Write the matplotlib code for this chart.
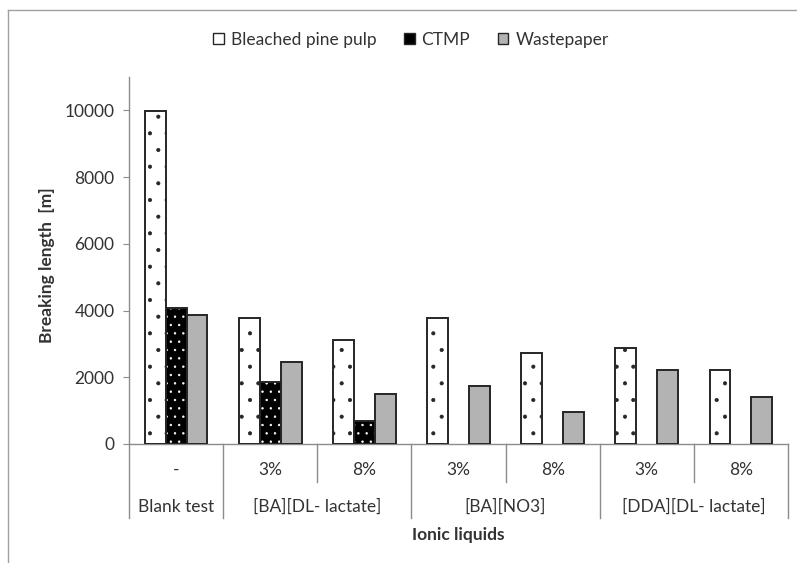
import numpy as np
import matplotlib
matplotlib.use("Agg")
import matplotlib.pyplot as plt
from matplotlib.patches import Patch
from matplotlib.lines import Line2D
import matplotlib.transforms as mtransforms

plt.rcParams['font.family'] = ['Lato', 'DejaVu Sans']
plt.rcParams['hatch.linewidth'] = 0.5

sub_labels = ["-", "3%", "8%", "3%", "8%", "3%", "8%"]
group_labels = ["Blank test", "[BA][DL- lactate]", "[BA][NO3]", "[DDA][DL- lactate]"]
group_sizes = [1, 2, 2, 2]
series_names = ["Bleached pine pulp", "CTMP", "Wastepaper"]
bleached = [9980, 3790, 3120, 3770, 2740, 2890, 2220]
ctmp = [4090, 1850, 700, None, None, None, None]
waste = [3870, 2460, 1490, 1740, 970, 2220, 1420]

text_c = '#333333'
axis_c = '#8c8c8c'
edge_c = '#262626'
gray_c = '#b3b3b3'
fs = 12.5

fig = plt.figure(figsize=(7.97, 5.63), dpi=100)
ax = fig.add_axes([129/797, 1-444/563, (788-129)/797, (444-77)/563])

n = len(sub_labels)
x = np.arange(n)
w = 0.222

# Bleached: white with black dots
ax.bar(x - w, bleached, w, facecolor='white', edgecolor=edge_c, hatch='.', linewidth=1.4, zorder=3)
# CTMP: black with white dots
cx = [xi for xi, v in zip(x, ctmp) if v is not None]
cv = [v for v in ctmp if v is not None]
ax.bar(cx, cv, w, facecolor='black', edgecolor='white', hatch='..', linewidth=0, zorder=3)
ax.bar(cx, cv, w, fill=False, edgecolor=edge_c, linewidth=1.4, zorder=4)
# Wastepaper: gray
ax.bar(x + w, waste, w, facecolor=gray_c, edgecolor=edge_c, linewidth=1.4, zorder=3)

ax.set_xlim(-0.5, n - 0.5)
ax.set_ylim(0, 11000)
ax.set_yticks([0, 2000, 4000, 6000, 8000, 10000])
ax.set_xticks([])
for s in ['top', 'right']:
    ax.spines[s].set_visible(False)
for s in ['left', 'bottom']:
    ax.spines[s].set_color(axis_c)
    ax.spines[s].set_linewidth(1.0)
ax.tick_params(axis='y', direction='out', length=4.5, color=axis_c, labelsize=fs,
               labelcolor=text_c, pad=6)

trans = mtransforms.blended_transform_factory(ax.transData, ax.transAxes)
# Category separators
bounds = np.cumsum([0] + group_sizes)
group_edges = set(bounds.tolist())
for k in range(n + 1):
    yb = -0.2016 if k in group_edges else -0.1035
    ax.plot([k - 0.5, k - 0.5], [0, yb], transform=trans, color=axis_c, lw=1.0, clip_on=False)

for i, lab in enumerate(sub_labels):
    ax.text(i, -0.0708, lab, transform=trans, ha='center', va='center', fontsize=fs, color=text_c)
for g, lab in enumerate(group_labels):
    c = (bounds[g] + bounds[g + 1] - 1) / 2
    ax.text(c, -0.1717, lab, transform=trans, ha='center', va='center', fontsize=fs, color=text_c)

ax.text(0.5, -0.248, "Ionic liquids", transform=ax.transAxes, ha='center', va='center',
        fontsize=fs, fontweight='bold', color=text_c)
fig.text(47/797, 1-265/563, "Breaking length  [m]", rotation=90, ha='center', va='center',
         fontsize=fs, fontweight='bold', color=text_c)

handles = [Patch(facecolor='white', edgecolor=edge_c, linewidth=1.0),
           Patch(facecolor='black', edgecolor=edge_c, linewidth=1.0),
           Patch(facecolor=gray_c, edgecolor=edge_c, linewidth=1.0)]
leg = fig.legend(handles, series_names, loc='center', bbox_to_anchor=(411/797, 1-40/563), ncol=3,
                 frameon=False, fontsize=fs, handlelength=0.6, handleheight=0.6,
                 handletextpad=0.4, columnspacing=1.6, borderaxespad=0)
for t in leg.get_texts():
    t.set_color(text_c)

# outer chart border (left and top visible)
fig.add_artist(Line2D([8/797, 8/797], [0, 1-10/563], color='#a0a0a0', lw=1.0))
fig.add_artist(Line2D([8/797, 1], [1-10/563, 1-10/563], color='#a0a0a0', lw=1.0))

fig.savefig("out.png", dpi=100)
